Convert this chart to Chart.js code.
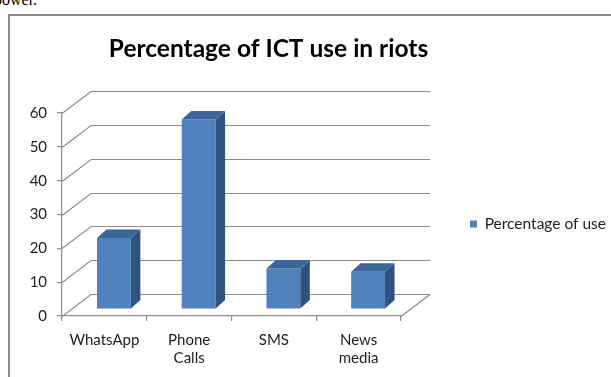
<!DOCTYPE html>
<html><head><meta charset="utf-8">
<script src="https://cdn.jsdelivr.net/npm/chart.js@4.4.0/dist/chart.umd.min.js"></script>
<style>
html,body{margin:0;padding:0;width:611px;height:377px;overflow:hidden;background:#fff;position:relative}
#prev{position:absolute;left:-6px;top:-8px;font:16px/16px "Liberation Serif",serif;color:#000;white-space:nowrap}
#frame{position:absolute;left:8px;top:14px;width:700px;height:500px;border:2px solid #8c8c8c;box-sizing:border-box}
#wrap{position:absolute;top:0}
canvas{display:block}
</style></head><body>
<div id="prev">power.</div>
<div id="frame"></div>
<div id="wrap"><canvas id="c"></canvas></div>
<script>
// ---- data ----
const chartTitle = 'Percentage of ICT use in riots';
const categories = ['WhatsApp', ['Phone', 'Calls'], 'SMS', ['News', 'media']];
const seriesName = 'Percentage of use';
const values = [21, 56, 12, 11];
const yMin = 0, yMax = 60, yStep = 10;

// ---- style ----
const FONT = 'Lato';
const LABEL_SIZE = 15, TITLE_SIZE = 24.5, LEGEND_SIZE = 15.5;
const gridColor = '#8c8c8c';
const frontColor = '#4F81BD', sideColor = '#30527f', topColor = '#3c659c';
const DX = 29, DY = 22;       // wall depth
const BX = 9.5, BY = 7;       // bar front offset into depth
const BDX = 9.5, BDY = 8.5;   // bar depth

// layout targets (page px)
const plotLeft = 62, plotRight = 401, plotTop = 113, plotBottom = 316;
const legendBoxX = 470, titleCenter = 268.5, legendCenterY = 224;

const m = document.createElement('canvas').getContext('2d');
m.font = LEGEND_SIZE + 'px ' + FONT;
const tw = m.measureText(seriesName).width;
const boxW = 7;
const legPad = legendBoxX - plotRight;
const itemW = boxW + LEGEND_SIZE / 2 + tw;
const legendW = legPad + itemW + 10;
const R = plotRight + legendW;
const L = 2 * titleCenter - R;
const W = Math.round(R - L);
const H = 2 * legendCenterY;

const wrap = document.getElementById('wrap');
wrap.style.left = L + 'px';
const cv = document.getElementById('c');
cv.width = W; cv.height = H;
cv.style.width = W + 'px'; cv.style.height = H + 'px';

Chart.defaults.font.family = FONT;
Chart.defaults.color = '#1e1e1e';

const threeD = {
  id: 'threeD',
  beforeDatasetsDraw(chart) {
    const {ctx, chartArea: a, scales: {y}} = chart;
    ctx.save();
    ctx.strokeStyle = gridColor;
    ctx.lineWidth = 1.2;
    ctx.beginPath();
    y.ticks.forEach(t => {
      const py = Math.round(y.getPixelForValue(t.value)) + 0.5;
      ctx.moveTo(a.left, py);
      ctx.lineTo(a.left + DX, py - DY);
      ctx.lineTo(a.right + DX, py - DY);
    });
    const p0 = Math.round(y.getPixelForValue(yMin)) + 0.5;
    ctx.moveTo(a.right, p0);
    ctx.lineTo(a.right + DX, p0 - DY);
    ctx.stroke();
    ctx.restore();
    ctx.save();
    ctx.translate(BX, -BY);
  },
  afterDatasetsDraw(chart) {
    const ctx = chart.ctx;
    chart.getDatasetMeta(0).data.forEach(bar => {
      const {x, y, base, width} = bar.getProps(['x', 'y', 'base', 'width'], true);
      const l = x - width / 2, r = x + width / 2;
      ctx.fillStyle = sideColor;
      ctx.beginPath();
      ctx.moveTo(r, y); ctx.lineTo(r + BDX, y - BDY); ctx.lineTo(r + BDX, base - BDY); ctx.lineTo(r, base);
      ctx.closePath(); ctx.fill();
      ctx.fillStyle = topColor;
      ctx.beginPath();
      ctx.moveTo(l, y); ctx.lineTo(l + BDX, y - BDY); ctx.lineTo(r + BDX, y - BDY); ctx.lineTo(r, y);
      ctx.closePath(); ctx.fill();
    });
    ctx.restore();
  }
};

new Chart(cv, {
  type: 'bar',
  data: {
    labels: categories,
    datasets: [{
      label: seriesName,
      data: values,
      backgroundColor: frontColor,
      borderColor: frontColor,
      borderWidth: 0,
      categoryPercentage: 1,
      barPercentage: 0.4
    }]
  },
  options: {
    responsive: false,
    maintainAspectRatio: false,
    animation: false,
    devicePixelRatio: 1,
    layout: {padding: 0},
    plugins: {
      tooltip: {enabled: false},
      title: {
        display: true,
        text: chartTitle,
        color: '#000',
        font: {family: FONT, size: TITLE_SIZE, weight: 'bold', lineHeight: 1.2},
        padding: {top: 34, bottom: plotTop - 34 - TITLE_SIZE * 1.2}
      },
      legend: {
        display: true,
        position: 'right',
        maxWidth: 3000,
        labels: {
          boxWidth: boxW, boxHeight: 7, padding: legPad,
          font: {family: FONT, size: LEGEND_SIZE},
          color: '#1e1e1e'
        }
      }
    },
    scales: {
      x: {
        offset: true,
        grid: {drawOnChartArea: false, offset: true, tickLength: 5, color: gridColor, lineWidth: 1.2},
        border: {color: gridColor, width: 1.2},
        ticks: {padding: 10, font: {size: LABEL_SIZE, lineHeight: 1.2}, maxRotation: 0, autoSkip: false},
        afterFit(s) { s.height = H - plotBottom; }
      },
      y: {
        min: yMin, max: yMax,
        grid: {drawOnChartArea: false, tickLength: 5, color: gridColor, lineWidth: 1.2},
        border: {color: gridColor, width: 1.2},
        ticks: {stepSize: yStep, padding: 10, font: {size: LABEL_SIZE}},
        afterFit(s) { s.width = plotLeft - L; }
      }
    }
  },
  plugins: [threeD]
});
</script>
</body></html>
